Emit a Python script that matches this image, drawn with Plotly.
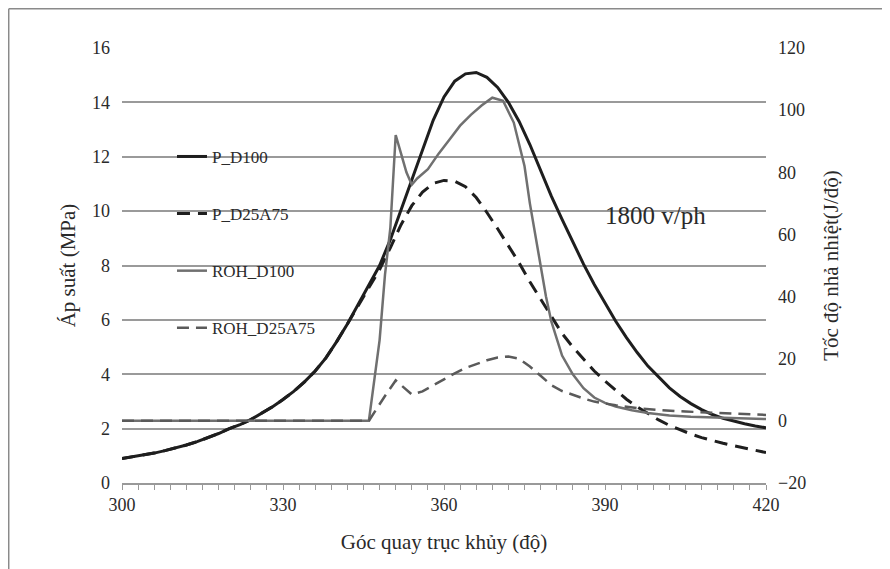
import plotly.graph_objects as go

# ---- data ----
p_angle = list(range(300, 421, 2))
p_d100 = [0.90, 0.96, 1.03, 1.10, 1.19, 1.29, 1.40, 1.52, 1.66, 1.82,
          2.00, 2.15, 2.33, 2.55, 2.80, 3.07, 3.37, 3.72, 4.12, 4.60,
          5.20, 5.85, 6.55, 7.25, 8.00, 8.95, 10.05, 11.20, 12.30, 13.35,
          14.20, 14.78, 15.05, 15.10, 14.92, 14.55, 14.00, 13.30, 12.45, 11.50,
          10.55, 9.70, 8.85, 8.05, 7.30, 6.60, 5.95, 5.35, 4.80, 4.30,
          3.88, 3.50, 3.18, 2.92, 2.70, 2.52, 2.38, 2.27, 2.18, 2.10, 2.03]
p_d25a75 = [0.90, 0.96, 1.03, 1.10, 1.19, 1.29, 1.40, 1.52, 1.66, 1.82,
            2.00, 2.15, 2.33, 2.55, 2.80, 3.07, 3.37, 3.72, 4.12, 4.60,
            5.20, 5.85, 6.52, 7.18, 7.85, 8.65, 9.50, 10.20, 10.70, 11.02,
            11.13, 11.10, 10.90, 10.50, 9.95, 9.35, 8.75, 8.10, 7.40, 6.75,
            6.10, 5.50, 5.00, 4.55, 4.12, 3.75, 3.40, 3.08, 2.80, 2.55,
            2.32, 2.12, 1.95, 1.80, 1.67, 1.56, 1.46, 1.37, 1.29, 1.20, 1.12]

roh_d100_angle = [300, 346, 348, 349, 350, 351, 352, 353, 354, 355, 357, 359, 361,
                  363, 365, 367, 369, 371, 373, 375, 376, 377, 378, 379, 380, 382,
                  384, 386, 388, 390, 392, 395, 398, 402, 406, 410, 415, 420]
roh_d100 = [0, 0, 26, 47, 62, 92, 86, 80, 76, 78, 81, 86, 90.5,
            95, 98.5, 101.5, 104, 103, 96, 82, 70, 60, 50, 40, 32, 21,
            15, 10.5, 7.5, 5.8, 4.6, 3.4, 2.5, 1.7, 1.3, 1.0, 0.8, 0.6]

roh_d25a75_angle = [300, 346, 349, 351, 352, 354, 356, 358, 360, 362, 364, 366, 368,
                    370, 372, 374, 376, 378, 380, 382, 384, 386, 388, 392, 396, 400,
                    405, 410, 415, 420]
roh_d25a75 = [0, 0, 8, 13, 11.5, 8.5, 9.5, 11.5, 13.5, 15.3, 17, 18.3, 19.5,
              20.4, 20.7, 20, 17.5, 14.5, 11.5, 9.6, 8.3, 7.2, 6.2, 5.0, 4.1, 3.5,
              3.0, 2.6, 2.2, 1.9]

FONT = "Liberation Serif"
TXT = "#2a2a2a"

fig = go.Figure()
fig.add_trace(go.Scatter(x=p_angle, y=p_d100, name="P_D100", mode="lines",
                         line=dict(color="#1e1e1e", width=3), legendgroup="a"))
fig.add_trace(go.Scatter(x=p_angle, y=p_d25a75, name="P_D25A75", mode="lines",
                         line=dict(color="#1e1e1e", width=3, dash="13px,8px"), legendgroup="b"))
fig.add_trace(go.Scatter(x=roh_d100_angle, y=roh_d100, name="ROH_D100", mode="lines",
                         line=dict(color="#707070", width=2.5), yaxis="y2", legendgroup="c"))
fig.add_trace(go.Scatter(x=roh_d25a75_angle, y=roh_d25a75, name="ROH_D25A75", mode="lines",
                         line=dict(color="#5a5a5a", width=2.5, dash="12px,7px"), yaxis="y2",
                         legendgroup="d"))

fig.add_annotation(x=399.5, y=9.85, text="1800 v/ph", showarrow=False,
                   font=dict(family=FONT, size=25, color=TXT))

# outer frame (top and left edges)
fig.add_shape(type="line", xref="paper", yref="paper", x0=-0.1759, x1=1.3, y0=1.0905, y1=1.0905,
              line=dict(color="#8a8a8a", width=1.5))
fig.add_shape(type="line", xref="paper", yref="paper", x0=-0.1759, x1=-0.1759, y0=1.0905, y1=-0.3,
              line=dict(color="#8a8a8a", width=1.5))

fig.update_layout(
    width=890, height=569,
    margin=dict(l=114, r=132, t=40, b=94),
    paper_bgcolor="white", plot_bgcolor="white",
    font=dict(family=FONT, size=18, color=TXT),
    showlegend=True,
    legend=dict(x=0.0776, y=0.791, xanchor="left", yanchor="top",
                bgcolor="rgba(0,0,0,0)", traceorder="grouped", tracegroupgap=32,
                font=dict(family=FONT, size=17, color=TXT)),
    xaxis=dict(range=[300, 420], tick0=300, dtick=30, showgrid=False,
               showline=True, linecolor="#999999", linewidth=1.5,
               ticks="outside", ticklen=5, tickcolor="#999999",
               minor=dict(dtick=3, ticks="outside", ticklen=5, tickcolor="#999999"),
               zeroline=False,
               title=dict(text="Góc quay trục khủy (độ)", font=dict(family=FONT, size=21, color=TXT),
                          standoff=20)),
    yaxis=dict(range=[0, 16], dtick=2, showgrid=True, gridcolor="#9a9a9a", gridwidth=1.5,
               zeroline=False, showline=False, ticks="", ticklabelstandoff=11,
               title=dict(text="Áp suất (MPa)", font=dict(family=FONT, size=21, color=TXT),
                          standoff=10)),
    yaxis2=dict(range=[-20, 120], dtick=20, overlaying="y", side="right",
                showgrid=False, zeroline=False, showline=False, ticks="", ticklabelstandoff=11,
                title=dict(text="Tốc độ nhả nhiệt(J/độ)", font=dict(family=FONT, size=21, color=TXT),
                           standoff=18)),
)

fig.write_html("out.html")
